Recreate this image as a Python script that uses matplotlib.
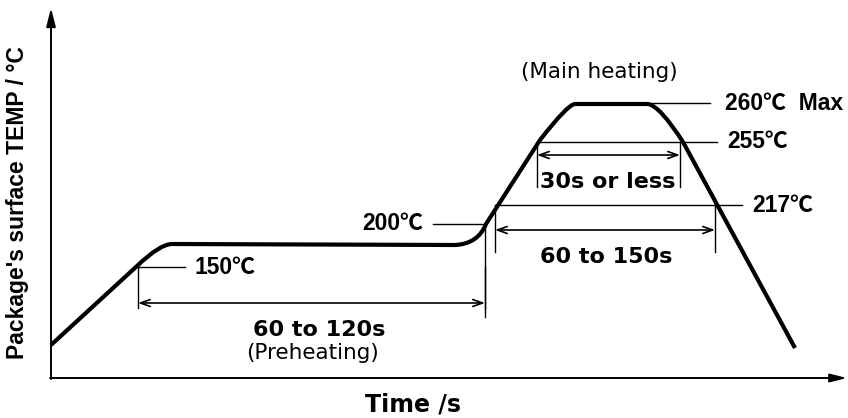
import numpy as np
import matplotlib
matplotlib.use('Agg')
from matplotlib import pyplot as plt
from matplotlib.path import Path
from matplotlib.patches import PathPatch

# schematic coords (x = time, y = pixel-ish height, inverted axis so temp goes up)
# profile corners: straight points and rounding control points
prof_x = [51, 137, 160, 172, 455, 478, 486, 540, 568, 575, 648, 660, 683, 795]
prof_y = [345, 266, 244, 244, 245, 244, 224, 140, 104, 104, 104, 106, 142, 348]
prof_codes = ['M', 'L', 'C', 'L', 'L', 'C', 'L', 'L', 'C', 'L', 'L', 'C', 'L', 'L']

# temp marker lines: (label, y, x0, x1, label x)
temp_labels = ['150℃', '200℃', '217℃', '255℃', '260℃  Max']
temp_y = [267, 224, 205, 142, 103]
temp_x0 = [138, 433, 495, 537, 650]
temp_x1 = [185, 483, 742, 717, 710]
temp_tx = [195, 423, 752, 727, 725]
temp_ha = ['left', 'right', 'left', 'left', 'left']

# time spans
span_labels = ['60 to 120s', '60 to 150s', '30s or less']
span_x0 = [138, 495, 537]
span_x1 = [485, 715, 680]
span_y = [303, 230, 155]
span_top = [267, 205, 142]
span_bot = [308, 252, 187]
span_tx = [319, 606, 608]
span_ty = [330, 257, 182]

fig = plt.figure(figsize=(8.48, 4.18), dpi=100)
ax = fig.add_axes([0, 0, 1, 1])
ax.set_xlim(0, 848)
ax.set_ylim(418, 0)
ax.axis('off')

# axes with arrows
ax.annotate('', xy=(51, 8), xytext=(51, 379),
            arrowprops=dict(arrowstyle='-|>,head_length=1.1,head_width=0.28', lw=1.4, color='black',
                            shrinkA=0, shrinkB=0))
ax.annotate('', xy=(847, 378), xytext=(50, 378),
            arrowprops=dict(arrowstyle='-|>,head_length=1.0,head_width=0.25', lw=1.4, color='black',
                            shrinkA=0, shrinkB=0))

# profile curve
verts = []
codes = []
for x, y, c in zip(prof_x, prof_y, prof_codes):
    verts.append((x, y))
    codes.append({'M': Path.MOVETO, 'L': Path.LINETO, 'C': Path.CURVE3}[c])
# CURVE3 needs control + end point: the point after each 'C' is the end point
fixed = []
i = 0
while i < len(codes):
    if codes[i] == Path.CURVE3:
        fixed.append(Path.CURVE3)
        fixed.append(Path.CURVE3)
        i += 2
    else:
        fixed.append(codes[i])
        i += 1
path = Path(verts, fixed)
ax.add_patch(PathPatch(path, fill=False, lw=3.0, color='black', capstyle='butt', joinstyle='round'))

fam = ['Liberation Sans', 'Noto Sans CJK JP', 'DejaVu Sans']
for lab, y, x0, x1, tx, ha in zip(temp_labels, temp_y, temp_x0, temp_x1, temp_tx, temp_ha):
    ax.plot([x0, x1], [y, y], color='black', lw=1.0)
    ax.text(tx, y, lab, ha=ha, va='center', fontsize=16.5, fontweight='bold', family=fam)

# 200C vertical line
ax.plot([485, 485], [224, 317], color='black', lw=1.0)

for lab, x0, x1, y, yt, yb, tx, ty in zip(span_labels, span_x0, span_x1, span_y,
                                          span_top, span_bot, span_tx, span_ty):
    ax.plot([x0, x0], [yt, yb], color='black', lw=1.0)
    ax.plot([x1, x1], [yt, yb], color='black', lw=1.0)
    ax.annotate('', xy=(x1, y), xytext=(x0, y),
                arrowprops=dict(arrowstyle='<->,head_length=0.7,head_width=0.25', lw=1.2,
                                color='black', shrinkA=0, shrinkB=0))
    ax.text(tx, ty, lab, ha='center', va='center', fontsize=16, fontweight='bold', family='DejaVu Sans')

ax.text(312, 353, '(Preheating)', ha='center', va='center', fontsize=15.5, family='DejaVu Sans')
ax.text(599, 72, '(Main heating)', ha='center', va='center', fontsize=15.5, family='DejaVu Sans')

ax.text(413, 404, 'Time /s', ha='center', va='center', fontsize=17, fontweight='bold', family='DejaVu Sans')
ax.text(18, 203, "Package's surface TEMP / °C", ha='center', va='center', rotation=90,
        fontsize=16.5, fontweight='bold', family=['Liberation Sans', 'DejaVu Sans'])

fig.savefig('out.png', dpi=100)
